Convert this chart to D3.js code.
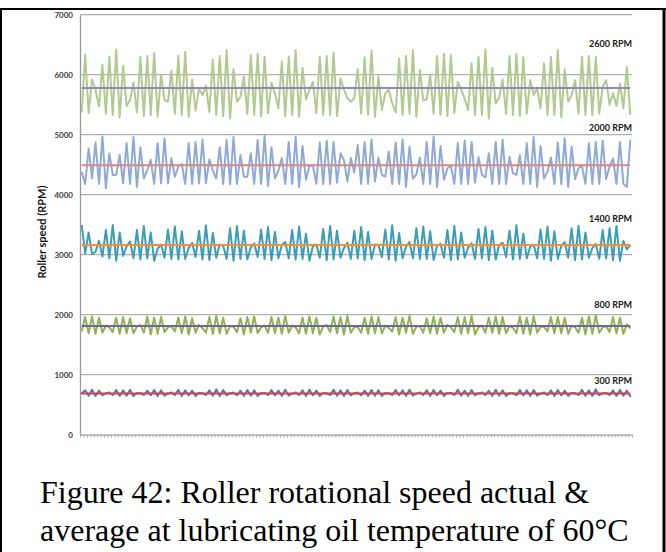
<!DOCTYPE html>
<html><head><meta charset="utf-8">
<script src="https://cdn.jsdelivr.net/npm/d3@7"></script>
<style>html,body{margin:0;padding:0;background:#fff;} svg{display:block}</style>
</head><body><svg id="c" width="666" height="552"></svg>
<script>
// ---- data (RPM readings, 160 samples per series) ----
const rpm2600 = [
5370,6330,5360,5920,5750,5470,6160,5350,6300,5330,
6420,5290,6150,5480,5580,5870,5370,6300,5310,6310,
5330,6360,5300,6000,5580,5550,6070,5350,6310,5330,
6380,5300,5920,5400,5770,5660,5820,5380,6250,5330,
6310,5310,6410,5270,6090,5550,5630,5970,5350,6330,
5330,6350,5310,6300,5360,5870,5690,5440,6220,5310,
6300,5330,6410,5300,6110,5590,5750,5880,5360,6300,
5330,6310,5330,6370,5310,5940,5750,5610,5550,5610,
6090,5350,6290,5330,6400,5300,5970,5410,5690,5750,
5520,5370,6270,5330,6310,5350,6410,5300,6080,5570,
5590,6000,5350,6310,5330,6350,5310,6330,5360,5880,
5750,5600,5410,6190,5330,6300,5330,6420,5270,6110,
5520,5620,5920,5350,6310,5330,6350,5310,6290,5350,
5910,5660,5780,5440,6190,5330,6300,5330,6410,5290,
6090,5550,5660,5910,5350,6300,5330,6310,5330,6300,
5350,5800,5910,5500,5690,5480,5850,5440,6130,5330];
const rpm2000 = [
4380,4180,4770,4270,4870,4180,4970,4110,4690,4330,
4330,4660,4190,4860,4180,4960,4130,4790,4270,4410,
4580,4180,4860,4190,4940,4190,4610,4300,4470,4510,
4180,4860,4180,4880,4190,4920,4190,4590,4400,4270,
4790,4180,4910,4180,4960,4180,4660,4300,4300,4690,
4180,4910,4180,4980,4140,4790,4270,4400,4610,4180,
4880,4180,4960,4130,4810,4250,4480,4490,4180,4870,
4180,4900,4180,4880,4200,4690,4580,4220,4610,4370,
4830,4180,4880,4180,4920,4220,4620,4330,4300,4720,
4180,4870,4180,4920,4130,4800,4270,4340,4620,4180,
4880,4180,4970,4130,4810,4250,4440,4480,4180,4860,
4180,4900,4180,4880,4200,4630,4330,4290,4690,4180,
4880,4180,4920,4180,4630,4360,4330,4660,4180,4860,
4180,4960,4130,4810,4270,4380,4620,4180,4870,4180,
4940,4130,4800,4260,4440,4480,4180,4860,4180,4880,
4180,4900,4260,4470,4600,4180,4880,4180,4130,4910];
const rpm1400 = [
3495,3020,3370,3010,3050,3230,2970,
3410,2940,3495,2900,3370,2980,3140,3220,2940,
3410,2920,3480,2940,3370,2900,3100,3170,2950,
3420,2930,3470,2920,3390,2930,3110,3200,2960,
3400,2920,3490,2910,3360,2950,3170,3150,2930,
3440,2900,3480,2930,3400,2920,3120,3190,2960,
3420,2930,3460,2910,3380,2940,3160,3210,2940,
3410,2920,3470,2930,3350,2900,3140,3170,2950,
3430,2910,3480,2920,3400,2950,3110,3200,2930,
3400,2940,3460,2910,3380,2930,3170,3160,2960,
3420,2920,3490,2900,3360,2940,3130,3210,2940,
3440,2930,3470,2930,3390,2910,3150,3180,2950,
3410,2910,3480,2920,3370,2950,3120,3190,2930,
3430,2940,3460,2910,3400,2920,3160,3200,2960,
3400,2920,3490,2930,3350,2940,3130,3170,2940,
3420,2930,3470,2900,3390,2930,3150,3210,2950,
3440,2910,3480,2920,3370,2950,3110,3180,2930,
3410,2940,3440,2910,3480,2900,3230,3090,3160];
const rpm800 = [
1720,
1960,1690,1970,1680,1950,1700,1820,1790,1710,
1950,1680,1960,1690,1940,1690,1800,1830,1700,
1970,1670,1950,1680,1960,1710,1790,1810,1720,
1950,1690,1970,1670,1940,1700,1830,1780,1700,
1960,1680,1980,1690,1950,1680,1810,1800,1710,
1940,1670,1960,1700,1970,1690,1790,1820,1700,
1960,1690,1950,1680,1980,1700,1820,1790,1690,
1950,1680,1970,1690,1950,1670,1800,1830,1710,
1970,1690,1960,1670,1980,1700,1790,1800,1700,
1950,1680,1970,1690,1960,1690,1820,1780,1720,
1960,1670,1950,1700,1980,1680,1800,1810,1700,
1940,1690,1970,1680,1950,1700,1830,1790,1710,
1960,1680,1960,1690,1980,1670,1790,1820,1700,
1950,1700,1970,1680,1960,1690,1810,1780,1690,
1970,1680,1950,1670,1980,1700,1800,1800,1720,
1960,1690,1960,1690,1950,1680,1820,1790,1700,
1950,1670,1970,1680,1990,1700,1790,1810,1710,
1960,1690,1950,1680,1840,1770];
const rpm300 = [
690,
735,655,745,650,730,660,690,700,665,
740,650,735,655,745,650,690,695,665,
730,660,740,650,735,655,685,700,665,
745,650,735,660,730,650,695,690,665,
735,655,750,650,740,660,690,700,660,
730,650,740,655,735,650,690,695,665,
740,660,730,650,745,655,685,700,665,
735,650,745,660,730,650,695,690,665,
745,655,735,650,740,660,690,700,660,
730,650,740,655,735,650,690,690,665,
740,660,735,650,745,655,685,700,665,
735,650,740,660,730,650,695,695,665,
745,655,730,650,740,660,690,700,665,
730,650,745,655,735,650,690,690,660,
740,660,735,650,740,655,685,700,665,
735,650,740,660,730,650,695,690,665,
745,655,735,650,750,660,690,695,665,
735,650,740,655,730,645];
const seriesLabels = ["2600 RPM","2000 RPM","1400 RPM","800 RPM","300 RPM"];
const averages = [5780, 4490, 3160, 1810, 685];
const yTicks = [0,1000,2000,3000,4000,5000,6000,7000];
const yTitle = "Roller speed (RPM)";
const captionLines = ["Figure 42: Roller rotational speed actual &", "average at lubricating oil temperature of 60\u00B0C"];
const categories = rpm2600.map((d,i)=>i+1);

// ---- styling ----
const lineColors = ["#b1ca90","#8faad6","#3a9dba","#8db451","#4a7bbd"];
const avgColors  = ["#9686bd","#d9878a","#f39033","#7a5ea8","#d04a48"];
const allSeries = [rpm2600, rpm2000, rpm1400, rpm800, rpm300];

const svg = d3.select("#c");
const L = 80, R = 632, T = 14.7, B = 434.7;
const y = d3.scaleLinear().domain([0,7000]).range([B,T]);
const xb = d3.scaleBand().domain(categories).range([L,R]);
const xc = c => xb(c) + xb.bandwidth()/2;
const xEdge = d3.scaleLinear().domain([0,categories.length]).range([L,R]);

// frame
svg.append("line").attr("x1",0).attr("x2",666).attr("y1",9).attr("y2",9).attr("stroke","#000").attr("stroke-width",2);
svg.append("line").attr("x1",1).attr("x2",1).attr("y1",8).attr("y2",552).attr("stroke","#000").attr("stroke-width",2);
svg.append("line").attr("x1",664).attr("x2",664).attr("y1",8).attr("y2",552).attr("stroke","#000").attr("stroke-width",3);

// gridlines
svg.append("g").selectAll("line").data(yTicks.filter(d=>d>0)).join("line")
  .attr("x1",L).attr("x2",R).attr("y1",d=>y(d)).attr("y2",d=>y(d))
  .attr("stroke","#b0b0b0").attr("stroke-width",1.3);

// y axis
const ya = svg.append("g").attr("transform",`translate(${L},0)`)
  .call(d3.axisLeft(y).tickValues(yTicks).tickSize(0).tickPadding(7).tickFormat(d3.format("d")));
ya.select(".domain").attr("stroke","#999").attr("stroke-width",1.3);
ya.selectAll("text").attr("font-family","Lato, 'Liberation Sans', sans-serif").attr("font-size",8).attr("font-weight","bold").attr("fill","#3c3c3c");

// x axis
const xa = svg.append("g").attr("transform",`translate(0,${B})`)
  .call(d3.axisBottom(xEdge).tickValues(d3.range(categories.length+1)).tickSizeInner(3).tickSizeOuter(0).tickFormat(""));
xa.select(".domain").attr("stroke","#999").attr("stroke-width",1.3);
xa.selectAll(".tick line").attr("stroke","#a8a8a8").attr("stroke-width",0.8);

// series
const line = d3.line().x((d,i)=>xc(categories[i])).y(d=>y(d));
allSeries.forEach((s,k)=>{
  svg.append("path").datum(s).attr("d",line).attr("fill","none")
    .attr("stroke",lineColors[k]).attr("stroke-width",2).attr("stroke-linejoin","round");
});
// markers for 300 RPM
svg.append("g").selectAll("circle").data(rpm300).join("circle")
  .attr("cx",(d,i)=>xc(categories[i])).attr("cy",d=>y(d)).attr("r",1.1).attr("fill","#4a7bbd");

// averages
averages.forEach((a,k)=>{
  const avgLine = categories.map(()=>a);
  svg.append("path").datum(avgLine).attr("d",line).attr("fill","none")
    .attr("stroke",avgColors[k]).attr("stroke-width",2);
});

// series labels
const labelY = [46.5,130.5,221.5,308,384];
svg.append("g").selectAll("text").data(seriesLabels).join("text")
  .attr("x",R).attr("y",(d,i)=>labelY[i]).attr("text-anchor","end")
  .attr("font-family","Lato, 'Liberation Sans', sans-serif").attr("font-size",9).attr("font-weight","bold").attr("fill","#1a1a1a")
  .text(d=>d);

// y title
svg.append("text").attr("transform","translate(46,232) rotate(-90)").attr("text-anchor","middle")
  .attr("font-family","Lato, 'Liberation Sans', sans-serif").attr("font-size",11).attr("font-weight","bold").attr("fill","#111")
  .text(yTitle);

// caption
svg.append("g").selectAll("text").data(captionLines).join("text")
  .attr("x",40).attr("y",(d,i)=>503+i*38)
  .attr("font-family","'Liberation Serif', 'Times New Roman', serif").attr("font-size",32).attr("fill","#000")
  .text(d=>d);
</script></body></html>
